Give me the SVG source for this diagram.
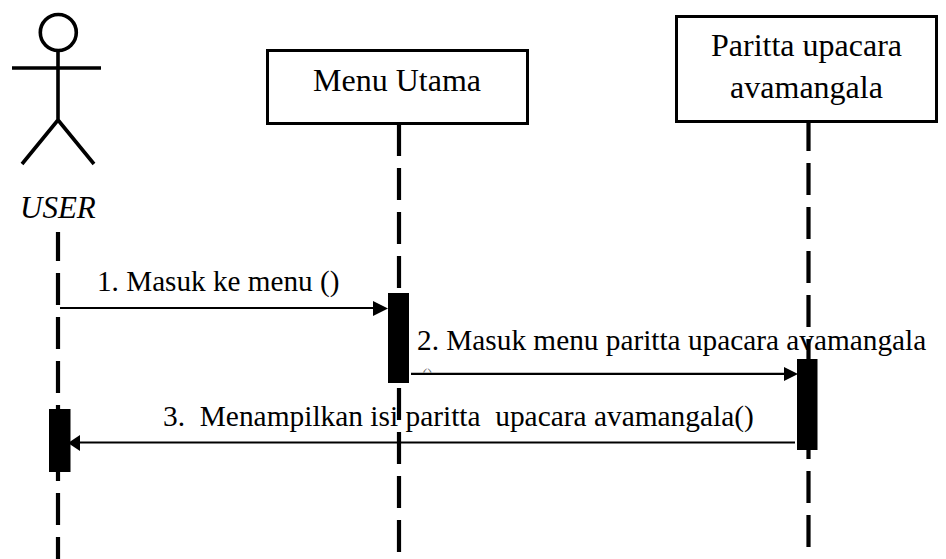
<svg xmlns="http://www.w3.org/2000/svg" width="946" height="559" viewBox="0 0 946 559">
<style>
.t{font-family:"Liberation Serif","Times New Roman",serif;fill:#000}
.box{fill:#fff;stroke:#000;stroke-width:3}
.life{stroke:#000;stroke-width:4.2;fill:none;stroke-dasharray:32 12}
.act{fill:#000}
.msg{stroke:#000;stroke-width:2.2;fill:none}
.fig{stroke:#000;stroke-width:3.6;fill:none}
</style>
<defs>
<clipPath id="frag"><rect x="415" y="365" width="25" height="7.5"/></clipPath>
</defs>
<rect width="946" height="559" fill="#fff"/>
<g id="lifelines">
<line class="life" x1="58" y1="232" x2="58" y2="559" stroke-dashoffset="3"/>
<line class="life" x1="399" y1="124" x2="399" y2="552"/>
<line class="life" x1="808.500" y1="122" x2="808.500" y2="548" stroke-dashoffset="3"/>
</g>
<g id="user">
<circle class="fig" cx="58.300" cy="32.500" r="18"/>
<path class="fig" d="M58 51V120M12 68H101M58 120L22 164M58 120L94 164"/>
<text class="t" x="20" y="218" font-size="31" font-style="italic">USER</text>
<rect class="act" x="49" y="409" width="21.500" height="63"/>
</g>
<g id="menu-utama">
<rect class="box" x="267.500" y="50.500" width="260" height="73"/>
<text class="t" x="397" y="90.500" font-size="32" text-anchor="middle">Menu Utama</text>
<rect class="act" x="388" y="293" width="21" height="90"/>
</g>
<g id="paritta">
<rect class="box" x="676.500" y="16.500" width="260" height="105"/>
<text class="t" x="806.500" y="56" font-size="32" text-anchor="middle">Paritta upacara</text>
<text class="t" x="806.500" y="98" font-size="32" text-anchor="middle">avamangala</text>
<rect class="act" x="797" y="359" width="20.500" height="91"/>
</g>
<g id="connectors">
<line class="msg" x1="60" y1="308" x2="376" y2="308"/>
<path class="act" d="M388 308.500L373 301V316Z"/>
<line class="msg" x1="411" y1="373.800" x2="786" y2="373.800"/>
<path class="act" d="M798 374L784 367V381Z"/>
<line class="msg" x1="795" y1="442.500" x2="78" y2="442.500"/>
<path class="act" d="M68 443L80 435V451Z"/>
</g>
<g id="labels">
<text class="t" x="97" y="291" font-size="29.200">1. Masuk ke menu ()</text>
<text class="t" x="417" y="350" font-size="29.300">2. Masuk menu paritta upacara avamangala</text>
<text class="t" x="163" y="425.500" font-size="29.400" xml:space="preserve">3.  Menampilkan isi paritta  upacara avamangala()</text>
<text class="t" x="422" y="380" font-size="16" clip-path="url(#frag)" fill-opacity="0.6">()</text>
</g>
</svg>
